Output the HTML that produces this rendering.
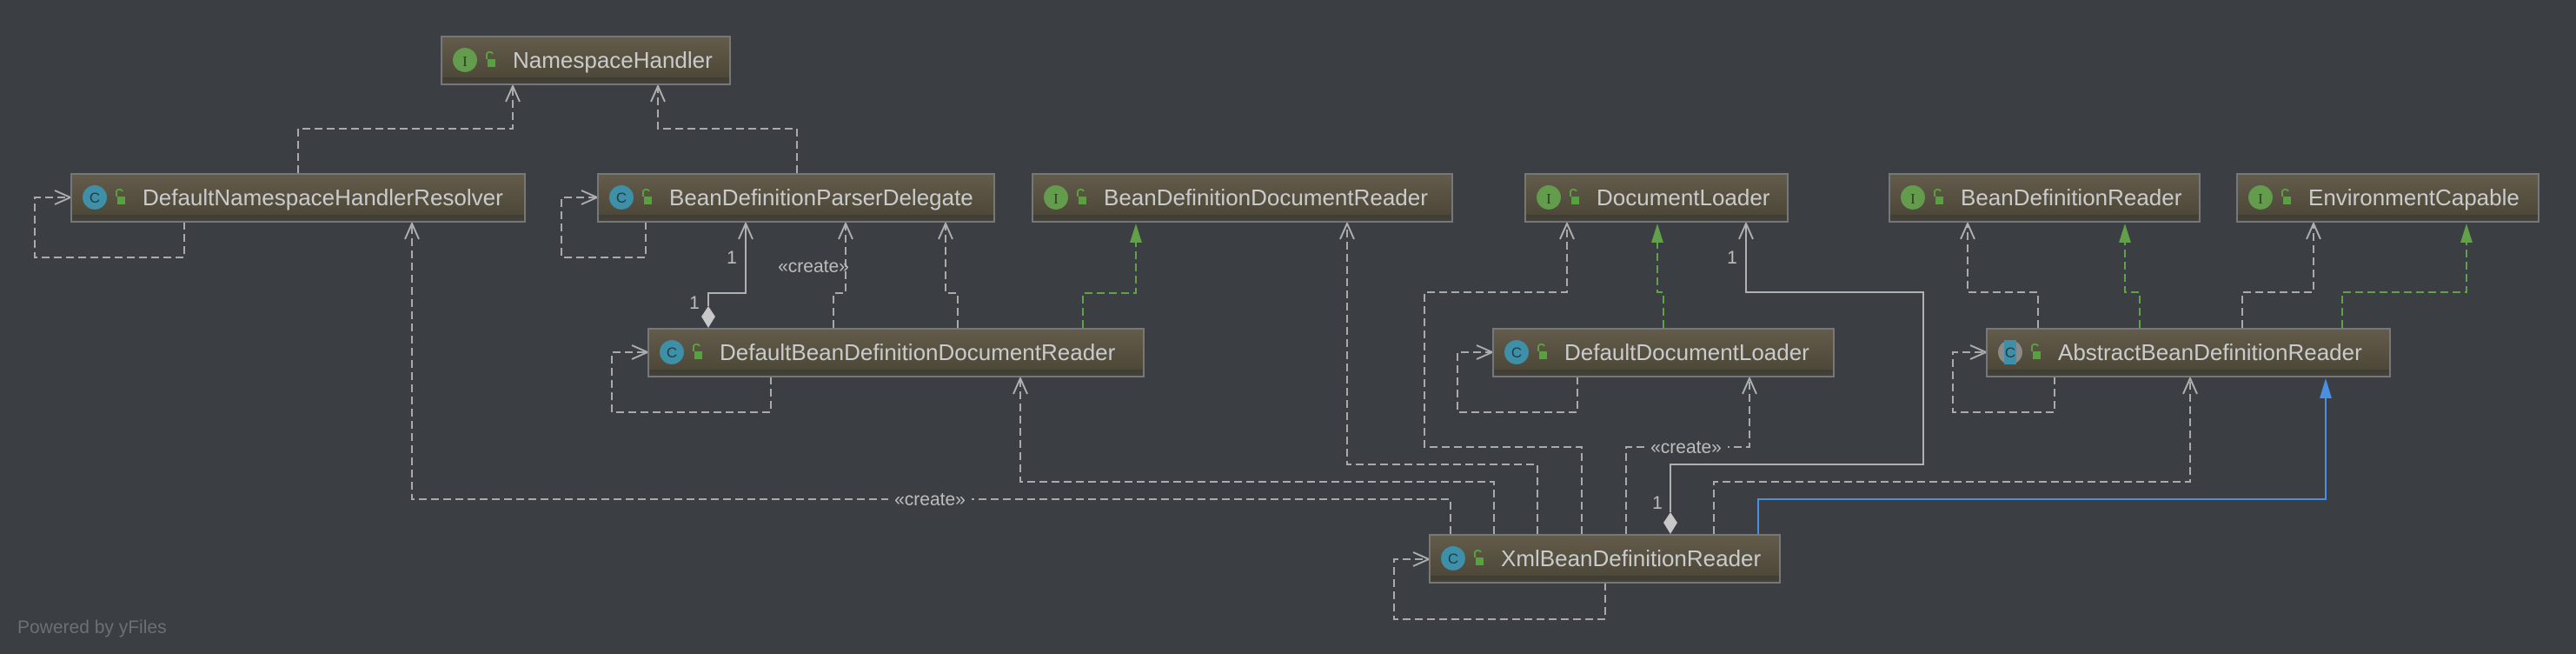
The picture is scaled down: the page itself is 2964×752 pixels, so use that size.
<!DOCTYPE html>
<html><head><meta charset="utf-8"><style>
html,body{margin:0;padding:0;background:#3b3e42;}
svg{display:block}
</style></head><body>
<svg width="2964" height="752" viewBox="0 0 2964 752" xmlns="http://www.w3.org/2000/svg" font-family="Liberation Sans, sans-serif">
<defs>
<linearGradient id="g" x1="0" y1="0" x2="0" y2="1">
<stop offset="0" stop-color="#645c4b"/><stop offset="0.85" stop-color="#4d4839"/><stop offset="0.86" stop-color="#3f3c33"/><stop offset="1" stop-color="#45423a"/>
</linearGradient>
</defs>
<rect width="2964" height="752" fill="#3b3e42"/>
<g fill="none" stroke="#aaaaaa" stroke-width="2" stroke-dasharray="9,5">
<polyline points="343,199 343,148 590,148 590,99"/>
<polyline points="917,199 917,148 757,148 757,99"/>
<polyline points="212,255 212,296 40,296 40,227 79,227"/>
<polyline points="743,255 743,296 646,296 646,227 685,227"/>
<polyline points="887,433 887,474 704,474 704,405 743,405"/>
<polyline points="1815,433 1815,474 1677,474 1677,405 1715,405"/>
<polyline points="2364,433 2364,474 2247,474 2247,405 2283,405"/>
<polyline points="1847,670 1847,712 1604,712 1604,643 1642,643"/>
<polyline points="959,377 959,337 973,337 973,257"/>
<polyline points="1102,377 1102,337 1088,337 1088,257"/>
<polyline points="1669,614 1669,574 474,574 474,257"/>
<polyline points="1719,614 1719,554 1174,554 1174,435"/>
<polyline points="1769,614 1769,534 1550,534 1550,257"/>
<polyline points="1820,614 1820,514 1639,514 1639,336 1803,336 1803,257"/>
<polyline points="1871,614 1871,514 2013,514 2013,435"/>
<polyline points="1972,614 1972,554 2520,554 2520,435"/>
<polyline points="2345,377 2345,336 2264,336 2264,257"/>
<polyline points="2580,377 2580,336 2662,336 2662,257"/>
</g>
<g fill="none" stroke="#62a04a" stroke-width="2" stroke-dasharray="9,5">
<polyline points="1246,377 1246,337 1307,337 1307,278"/>
<polyline points="1914,377 1914,336 1907,336 1907,278"/>
<polyline points="2462,377 2462,336 2445,336 2445,278"/>
<polyline points="2695,377 2695,336 2838,336 2838,278"/>
</g>
<g fill="#62a04a">
<polygon points="1307,257 1300,279 1314,279"/>
<polygon points="1907,257 1900,279 1914,279"/>
<polygon points="2445,257 2438,279 2452,279"/>
<polygon points="2838,257 2831,279 2845,279"/>
</g>
<g fill="none" stroke="#b0b0b0" stroke-width="2">
<polyline points="815,352 815,337 858,337 858,257"/>
<polyline points="1922,589 1922,534 2213,534 2213,336 2009,336 2009,257"/>
</g>
<g fill="#c8c8c8">
<polygon points="815,352 823,364 815,377 807,364"/>
<polygon points="1922,589 1930,601 1922,614 1914,601"/>
</g>
<polyline points="2023,614 2023,574 2676,574 2676,457" fill="none" stroke="#4a8fe0" stroke-width="2"/>
<polygon points="2676,435 2669,458 2683,458" fill="#4a8fe0"/>
<g fill="none" stroke="#b0b0b0" stroke-width="2">
<polyline points="582,117 590,99 598,117"/><polyline points="749,117 757,99 765,117"/>
<polyline points="466,275 474,257 482,275"/><polyline points="850,275 858,257 866,275"/>
<polyline points="965,275 973,257 981,275"/><polyline points="1080,275 1088,257 1096,275"/>
<polyline points="1166,453 1174,435 1182,453"/><polyline points="1542,275 1550,257 1558,275"/>
<polyline points="1795,275 1803,257 1811,275"/><polyline points="2001,275 2009,257 2017,275"/>
<polyline points="2005,453 2013,435 2021,453"/><polyline points="2512,453 2520,435 2528,453"/>
<polyline points="2256,275 2264,257 2272,275"/><polyline points="2654,275 2662,257 2670,275"/>
<polyline points="63,219 81,227 63,235"/><polyline points="669,219 687,227 669,235"/>
<polyline points="727,397 745,405 727,413"/><polyline points="1699,397 1717,405 1699,413"/>
<polyline points="2267,397 2285,405 2267,413"/><polyline points="1626,635 1644,643 1626,651"/>
</g>
<g fill="#bcbcbc" font-size="21">
<text x="936" y="313" text-anchor="middle">«create»</text>
<rect x="1022" y="562" width="96" height="24" fill="#3b3e42"/>
<text x="1070" y="581" text-anchor="middle">«create»</text>
<rect x="1892" y="502" width="96" height="24" fill="#3b3e42"/>
<text x="1940" y="521" text-anchor="middle">«create»</text>
<text x="842" y="303" text-anchor="middle">1</text>
<text x="799" y="355" text-anchor="middle">1</text>
<text x="1993" y="303" text-anchor="middle">1</text>
<text x="1907" y="585" text-anchor="middle">1</text>
</g>
<g font-size="26">
<g transform="translate(507,41)"><rect x="1" y="1" width="332" height="55" fill="url(#g)" stroke="#777" stroke-width="2"/><circle cx="28" cy="28" r="14" fill="#629c4c"/><text x="28" y="35" font-size="17" fill="#2d3b24" text-anchor="middle" font-family="Liberation Serif, serif">I</text><rect x="54" y="27" width="9" height="9" fill="#5aa040"/><path d="M53 27 v-6 a4 4 0 0 1 7 0" fill="none" stroke="#5aa040" stroke-width="2"/><text x="83" y="37" fill="#c9cacb">NamespaceHandler</text></g>
<g transform="translate(81,199)"><rect x="1" y="1" width="522" height="55" fill="url(#g)" stroke="#777" stroke-width="2"/><circle cx="28" cy="28" r="14" fill="#3e8fa8"/><text x="28" y="34" font-size="17" fill="#1e3d47" text-anchor="middle">C</text><rect x="54" y="27" width="9" height="9" fill="#5aa040"/><path d="M53 27 v-6 a4 4 0 0 1 7 0" fill="none" stroke="#5aa040" stroke-width="2"/><text x="83" y="37" fill="#c9cacb">DefaultNamespaceHandlerResolver</text></g>
<g transform="translate(687,199)"><rect x="1" y="1" width="456" height="55" fill="url(#g)" stroke="#777" stroke-width="2"/><circle cx="28" cy="28" r="14" fill="#3e8fa8"/><text x="28" y="34" font-size="17" fill="#1e3d47" text-anchor="middle">C</text><rect x="54" y="27" width="9" height="9" fill="#5aa040"/><path d="M53 27 v-6 a4 4 0 0 1 7 0" fill="none" stroke="#5aa040" stroke-width="2"/><text x="83" y="37" fill="#c9cacb">BeanDefinitionParserDelegate</text></g>
<g transform="translate(1187,199)"><rect x="1" y="1" width="483" height="55" fill="url(#g)" stroke="#777" stroke-width="2"/><circle cx="28" cy="28" r="14" fill="#629c4c"/><text x="28" y="35" font-size="17" fill="#2d3b24" text-anchor="middle" font-family="Liberation Serif, serif">I</text><rect x="54" y="27" width="9" height="9" fill="#5aa040"/><path d="M53 27 v-6 a4 4 0 0 1 7 0" fill="none" stroke="#5aa040" stroke-width="2"/><text x="83" y="37" fill="#c9cacb">BeanDefinitionDocumentReader</text></g>
<g transform="translate(1754,199)"><rect x="1" y="1" width="302" height="55" fill="url(#g)" stroke="#777" stroke-width="2"/><circle cx="28" cy="28" r="14" fill="#629c4c"/><text x="28" y="35" font-size="17" fill="#2d3b24" text-anchor="middle" font-family="Liberation Serif, serif">I</text><rect x="54" y="27" width="9" height="9" fill="#5aa040"/><path d="M53 27 v-6 a4 4 0 0 1 7 0" fill="none" stroke="#5aa040" stroke-width="2"/><text x="83" y="37" fill="#c9cacb">DocumentLoader</text></g>
<g transform="translate(2173,199)"><rect x="1" y="1" width="357" height="55" fill="url(#g)" stroke="#777" stroke-width="2"/><circle cx="28" cy="28" r="14" fill="#629c4c"/><text x="28" y="35" font-size="17" fill="#2d3b24" text-anchor="middle" font-family="Liberation Serif, serif">I</text><rect x="54" y="27" width="9" height="9" fill="#5aa040"/><path d="M53 27 v-6 a4 4 0 0 1 7 0" fill="none" stroke="#5aa040" stroke-width="2"/><text x="83" y="37" fill="#c9cacb">BeanDefinitionReader</text></g>
<g transform="translate(2573,199)"><rect x="1" y="1" width="347" height="55" fill="url(#g)" stroke="#777" stroke-width="2"/><circle cx="28" cy="28" r="14" fill="#629c4c"/><text x="28" y="35" font-size="17" fill="#2d3b24" text-anchor="middle" font-family="Liberation Serif, serif">I</text><rect x="54" y="27" width="9" height="9" fill="#5aa040"/><path d="M53 27 v-6 a4 4 0 0 1 7 0" fill="none" stroke="#5aa040" stroke-width="2"/><text x="83" y="37" fill="#c9cacb">EnvironmentCapable</text></g>
<g transform="translate(745,377)"><rect x="1" y="1" width="570" height="55" fill="url(#g)" stroke="#777" stroke-width="2"/><circle cx="28" cy="28" r="14" fill="#3e8fa8"/><text x="28" y="34" font-size="17" fill="#1e3d47" text-anchor="middle">C</text><rect x="54" y="27" width="9" height="9" fill="#5aa040"/><path d="M53 27 v-6 a4 4 0 0 1 7 0" fill="none" stroke="#5aa040" stroke-width="2"/><text x="83" y="37" fill="#c9cacb">DefaultBeanDefinitionDocumentReader</text></g>
<g transform="translate(1717,377)"><rect x="1" y="1" width="392" height="55" fill="url(#g)" stroke="#777" stroke-width="2"/><circle cx="28" cy="28" r="14" fill="#3e8fa8"/><text x="28" y="34" font-size="17" fill="#1e3d47" text-anchor="middle">C</text><rect x="54" y="27" width="9" height="9" fill="#5aa040"/><path d="M53 27 v-6 a4 4 0 0 1 7 0" fill="none" stroke="#5aa040" stroke-width="2"/><text x="83" y="37" fill="#c9cacb">DefaultDocumentLoader</text></g>
<g transform="translate(2285,377)"><rect x="1" y="1" width="464" height="55" fill="url(#g)" stroke="#777" stroke-width="2"/><circle cx="28" cy="28" r="14" fill="#8a8a8a"/><rect x="21" y="14" width="14" height="28" fill="#3e8fa8"/><text x="28" y="34" font-size="17" fill="#1e3d47" text-anchor="middle">C</text><rect x="54" y="27" width="9" height="9" fill="#5aa040"/><path d="M53 27 v-6 a4 4 0 0 1 7 0" fill="none" stroke="#5aa040" stroke-width="2"/><text x="83" y="37" fill="#c9cacb">AbstractBeanDefinitionReader</text></g>
<g transform="translate(1644,614)"><rect x="1" y="1" width="403" height="55" fill="url(#g)" stroke="#777" stroke-width="2"/><circle cx="28" cy="28" r="14" fill="#3e8fa8"/><text x="28" y="34" font-size="17" fill="#1e3d47" text-anchor="middle">C</text><rect x="54" y="27" width="9" height="9" fill="#5aa040"/><path d="M53 27 v-6 a4 4 0 0 1 7 0" fill="none" stroke="#5aa040" stroke-width="2"/><text x="83" y="37" fill="#c9cacb">XmlBeanDefinitionReader</text></g>
</g>
<text x="20" y="728" font-size="21" fill="#6c6f73">Powered by yFiles</text>
</svg>
</body></html>
